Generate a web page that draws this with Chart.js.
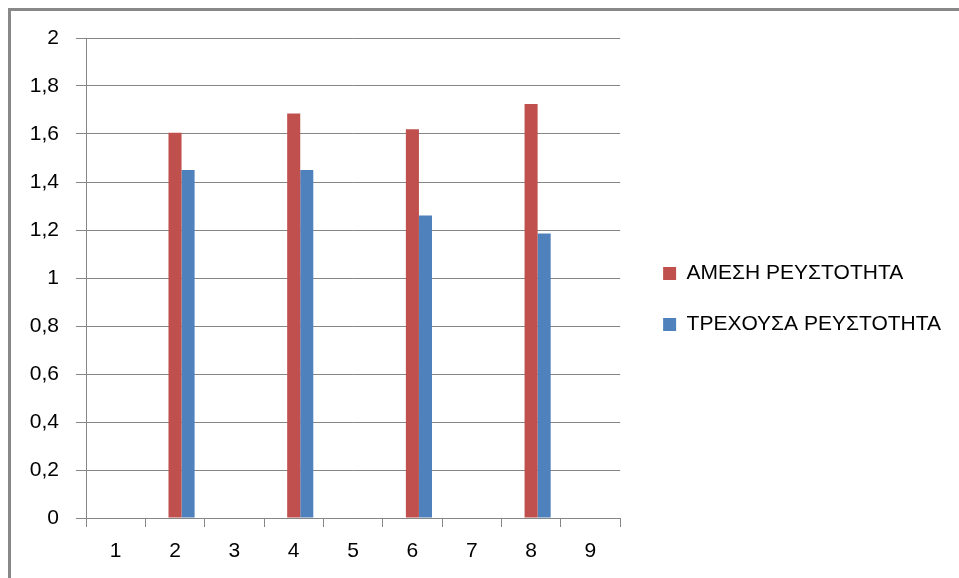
<!DOCTYPE html>
<html>
<head>
<meta charset="utf-8">
<script src="https://cdn.jsdelivr.net/npm/chart.js@4/dist/chart.umd.min.js"></script>
<style>
  html, body { margin: 0; padding: 0; background: #fff; overflow: hidden; }
  #wrap { position: relative; width: 959px; height: 578px; }
  #frame { position: absolute; left: 8px; top: 8px; width: 1000px; height: 600px; border-left: 3px solid #888; border-top: 3px solid #888; pointer-events: none; }
</style>
</head>
<body>
<div id="wrap">
  <canvas id="chart" width="959" height="578"></canvas>
  <div id="frame"></div>
</div>
<script>
const categories = ['1', '2', '3', '4', '5', '6', '7', '8', '9'];
const blankSeries = [null, null, null, null, null, null, null, null, null];
const ameshValues = [null, 1.605, null, 1.685, null, 1.62, null, 1.725, null];
const trexousaValues = [null, 1.45, null, 1.45, null, 1.26, null, 1.185, null];
const seriesNames = ['', 'ΑΜΕΣΗ ΡΕΥΣΤΟΤΗΤΑ', 'ΤΡΕΧΟΥΣΑ ΡΕΥΣΤΟΤΗΤΑ'];
const yMin = 0, yMax = 2, yStep = 0.2;

const gridGrey = '#868686';
const font = { family: '"Liberation Sans", Arial, sans-serif', size: 21 };

// move the legend a bit right and up, like the Excel original
const legendNudge = {
  id: 'legendNudge',
  afterLayout(chart) {
    const lg = chart.legend;
    lg.left += 13; lg.right += 13;
    lg.top -= 9; lg.bottom -= 9;
  }
};

new Chart(document.getElementById('chart'), {
  type: 'bar',
  data: {
    labels: categories,
    datasets: [
      { label: seriesNames[0], data: blankSeries, backgroundColor: '#fff' },
      { label: seriesNames[1], data: ameshValues, backgroundColor: '#C0504D' },
      { label: seriesNames[2], data: trexousaValues, backgroundColor: '#4F81BD' }
    ]
  },
  options: {
    responsive: false,
    animation: false,
    datasets: { bar: { categoryPercentage: 0.66, barPercentage: 1, borderWidth: 0 } },
    layout: { padding: { top: 38, right: 21, bottom: 0, left: 0 } },
    plugins: {
      tooltip: { enabled: false },
      legend: {
        position: 'right',
        maxWidth: 400,
        labels: {
          color: '#000', font, boxWidth: 13, boxHeight: 13, padding: 30,
          filter: item => item.text !== ''
        }
      }
    },
    scales: {
      x: {
        grid: { offset: true, drawOnChartArea: false, drawTicks: true, tickLength: 9, color: gridGrey },
        border: { display: true, color: gridGrey },
        ticks: { color: '#000', font, padding: 12, maxRotation: 0 },
        afterFit: s => { s.height = 60; }
      },
      y: {
        min: yMin, max: yMax,
        grid: { color: gridGrey, tickLength: 10 },
        border: { display: true, color: gridGrey },
        ticks: {
          stepSize: yStep, color: '#000', font, padding: 17,
          callback: v => String(Math.round(v * 10) / 10).replace('.', ',')
        },
        afterFit: s => { s.width = 86; }
      }
    }
  },
  plugins: [legendNudge]
});
</script>
</body>
</html>
